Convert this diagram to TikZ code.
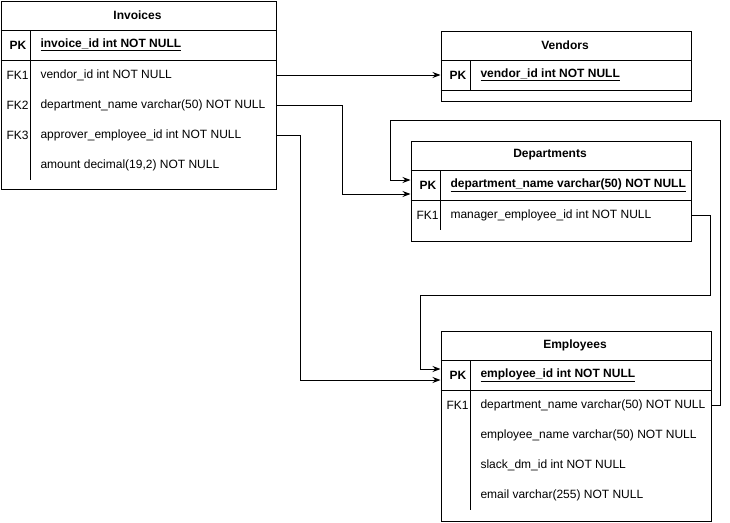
\documentclass[tikz,border=0pt]{standalone}
\usepackage{fontspec}
\setmainfont{Liberation Sans}
\usetikzlibrary{arrows.meta}
\begin{document}
\begin{tikzpicture}[x=1pt,y=-1pt,font=\fontsize{12}{14}\selectfont,
  tbl/.style={draw,line width=1pt,minimum width=#1,anchor=north west,inner sep=0pt},
  hd/.style={font=\fontsize{12}{14}\selectfont\bfseries},
  key/.style={anchor=west,font=\fontsize{12}{14}\selectfont\bfseries},
  fk/.style={anchor=west},
  fld/.style={anchor=west},
  pkf/.style={anchor=west,font=\fontsize{12}{14}\selectfont\bfseries},
  sep/.style={line width=1pt},
  conn/.style={line width=1pt,-{Stealth[length=8pt,width=6pt]}}]
\useasboundingbox (0,0) rectangle (730,522);
% Invoices
\node[tbl=275,minimum height=188] (inv) at (0.5,0.5) {};
\draw[sep] (0.5,30) -- (275.5,30) (0.5,60) -- (275.5,60) (30,30) -- (30,60) (30,60) -- (30,180);
\node[hd] (invh) at (137.5,15) {Invoices};
\node[key] (invpk) at (6,45) {PK};
\node[pkf] (invpkf) at (37,45) {\underline{invoice\_id int NOT NULL}};
\node[fk] (invk1) at (3,75) {FK1};
\node[fld] (inv1) at (37,75) {vendor\_id int NOT NULL};
\node[fk] (invk2) at (3,105) {FK2};
\node[fld] (inv2) at (37,105) {department\_name varchar(50) NOT NULL};
\node[fk] (invk3) at (3,135) {FK3};
\node[fld] (inv3) at (37,135) {approver\_employee\_id int NOT NULL};
\node[fld] (inv4) at (37,165) {amount decimal(19,2) NOT NULL};
% Vendors
\node[tbl=250,minimum height=70] (ven) at (440.5,30.5) {};
\draw[sep] (440.5,60) -- (690.5,60) (440.5,90) -- (690.5,90) (470,60) -- (470,90);
\node[hd] (venh) at (565,45) {Vendors};
\node[key] (venpk) at (446,75) {PK};
\node[pkf] (venpkf) at (477,75) {\underline{vendor\_id int NOT NULL}};
% Departments
\node[tbl=280,minimum height=100] (dep) at (410.5,140.5) {};
\draw[sep] (410.5,170) -- (690.5,170) (410.5,200) -- (690.5,200) (440,170) -- (440,230);
\node[hd] (deph) at (550,155) {Departments};
\node[key] (deppk) at (416,185) {PK};
\node[pkf] (deppkf) at (447,185) {\underline{department\_name varchar(50) NOT NULL}};
\node[fk] (depk1) at (413,215) {FK1};
\node[fld] (dep1) at (447,215) {manager\_employee\_id int NOT NULL};
% Employees
\node[tbl=270,minimum height=190] (emp) at (440.5,330.5) {};
\draw[sep] (440.5,360) -- (710.5,360) (440.5,390) -- (710.5,390) (470,360) -- (470,510);
\node[hd] (emph) at (575,345) {Employees};
\node[key] (emppk) at (446,375) {PK};
\node[pkf] (emppkf) at (477,375) {\underline{employee\_id int NOT NULL}};
\node[fk] (empk1) at (443,405) {FK1};
\node[fld] (emp1) at (477,405) {department\_name varchar(50) NOT NULL};
\node[fld] (emp2) at (477,435) {employee\_name varchar(50) NOT NULL};
\node[fld] (emp3) at (477,465) {slack\_dm\_id int NOT NULL};
\node[fld] (emp4) at (477,495) {email varchar(255) NOT NULL};
% connectors
\draw[conn] (inv.east |- inv1) -- (ven.west |- venpkf);
\draw[conn] (inv.east |- inv2) -| (342,194) -- (dep.west |- 0,194);
\draw[conn] (inv.east |- inv3) -| (300,380) -- (emp.west |- 0,380);
\draw[conn] (emp.east |- emp1) -| (720,120) -| (390,180) -- (dep.west |- 0,180);
\draw[conn] (dep.east |- dep1) -| (710,295) -| (420,369) -- (emp.west |- 0,369);
\end{tikzpicture}
\end{document}
